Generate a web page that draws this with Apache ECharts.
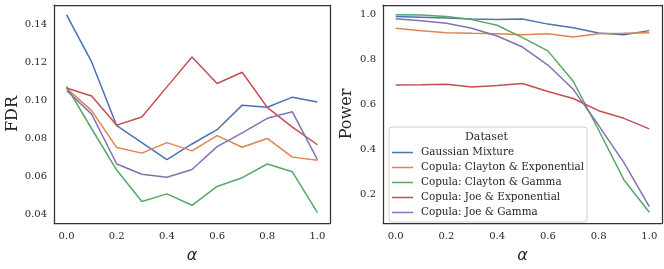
<!DOCTYPE html>
<html><head><meta charset="utf-8">
<script src="https://cdn.jsdelivr.net/npm/echarts@6/dist/echarts.min.js"></script>
<style>html,body{margin:0;padding:0;background:#fff}#c{width:664px;height:269px}</style>
</head><body><div id="c"></div>
<script>
const alpha = [0.0,0.1,0.2,0.3,0.4,0.5,0.6,0.7,0.8,0.9,1.0];
const seriesNames = ['Gaussian Mixture','Copula: Clayton & Exponential','Copula: Clayton & Gamma','Copula: Joe & Exponential','Copula: Joe & Gamma'];
const colors = ['#4C72B0','#DD8452','#55A868','#C44E52','#8172B3'];
// FDR values
const fdrGaussian = [0.1448,0.1201,0.0866,0.0777,0.0688,0.0770,0.0845,0.0974,0.0963,0.1016,0.0991];
const fdrClaytonExp = [0.1062,0.0945,0.0751,0.0722,0.0777,0.0734,0.0814,0.0753,0.0799,0.0701,0.0684];
const fdrClaytonGamma = [0.1073,0.0850,0.0633,0.0468,0.0508,0.0448,0.0547,0.0593,0.0665,0.0624,0.0410];
const fdrJoeExp = [0.1064,0.1022,0.0869,0.0912,0.1070,0.1227,0.1088,0.1147,0.0962,0.0859,0.0766];
const fdrJoeGamma = [0.1051,0.0927,0.0665,0.0611,0.0595,0.0636,0.0756,0.0828,0.0905,0.0939,0.0688];
// Power values
const powGaussian = [0.991,0.988,0.984,0.980,0.978,0.980,0.957,0.941,0.917,0.910,0.928];
const powClaytonExp = [0.939,0.928,0.919,0.916,0.914,0.910,0.914,0.900,0.914,0.916,0.919];
const powClaytonGamma = [0.999,0.997,0.991,0.977,0.952,0.897,0.838,0.703,0.486,0.264,0.120];
const powJoeExp = [0.686,0.687,0.690,0.677,0.684,0.693,0.657,0.626,0.572,0.538,0.491];
const powJoeGamma = [0.981,0.972,0.961,0.939,0.904,0.855,0.775,0.667,0.507,0.341,0.145];
const xTicks = [0,0.2,0.4,0.6,0.8,1.0];
const fdrTicks = [0.04,0.06,0.08,0.10,0.12,0.14];
const powTicks = [0.2,0.4,0.6,0.8,1.0];

const fdrData = [fdrGaussian,fdrClaytonExp,fdrClaytonGamma,fdrJoeExp,fdrJoeGamma];
const powData = [powGaussian,powClaytonExp,powClaytonGamma,powJoeExp,powJoeGamma];
const pair = arr => alpha.map((a,i)=>[a,arr[i]]);

const txt = '#262626';
function xAxis(gi){
  return {type:'value', gridIndex:gi, min:-0.05, max:1.05,
    axisLine:{show:true,onZero:false,lineStyle:{color:'#333',width:1.25}}, axisTick:{show:false}, splitLine:{show:false},
    axisLabel:{customValues:xTicks, formatter:v=>v.toFixed(1), color:txt, fontFamily:'DejaVu Serif', fontSize:10, margin:8},
    name:'α', nameLocation:'middle', nameGap:25,
    nameTextStyle:{fontFamily:'DejaVu Sans', fontStyle:'italic', fontSize:16, color:txt}};
}
function xTop(gi){
  return {type:'value', gridIndex:gi, position:'top', min:-0.05, max:1.05,
    axisLine:{show:true,onZero:false,lineStyle:{color:'#333',width:1.25}}, axisTick:{show:false}, axisLabel:{show:false}, splitLine:{show:false}};
}
function yAxis(gi,min,max,ticks,dec,name,gap){
  return {type:'value', gridIndex:gi, min:min, max:max,
    axisLine:{show:true,onZero:false,lineStyle:{color:'#333',width:1.25}}, axisTick:{show:false}, splitLine:{show:false},
    axisLabel:{customValues:ticks, formatter:v=>v.toFixed(dec), color:txt, fontFamily:'DejaVu Serif', fontSize:10, margin:7},
    name:name, nameLocation:'middle', nameGap:gap,
    nameTextStyle:{fontFamily:'DejaVu Serif', fontSize:16, color:txt}};
}
function yRight(gi,min,max){
  return {type:'value', gridIndex:gi, position:'right', min:min, max:max,
    axisLine:{show:true,onZero:false,lineStyle:{color:'#333',width:1.25}}, axisTick:{show:false}, axisLabel:{show:false}, splitLine:{show:false}};
}
const series = [];
seriesNames.forEach((n,i)=>{
  series.push({name:n, type:'line', xAxisIndex:0, yAxisIndex:0, data:pair(fdrData[i]), showSymbol:false, symbol:'none',
    lineStyle:{color:colors[i], width:1.5}, itemStyle:{color:colors[i]}, animation:false, silent:true});
  series.push({name:n, type:'line', xAxisIndex:1, yAxisIndex:2, data:pair(powData[i]), showSymbol:false, symbol:'none',
    lineStyle:{color:colors[i], width:1.5}, itemStyle:{color:colors[i]}, animation:false, silent:true});
});
const chart = echarts.init(document.getElementById('c'));
chart.setOption({
  animation:false,
  backgroundColor:'#fff',
  grid:[{left:54, top:5, width:276, height:223},{left:383, top:5, width:279, height:223}],
  xAxis:[xAxis(0), xAxis(1), xTop(0), xTop(1)],
  yAxis:[yAxis(0,0.0355,0.150,fdrTicks,2,'FDR',33), yRight(0,0.0355,0.150),
         yAxis(1,0.0725,1.042,powTicks,1,'Power',28), yRight(1,0.0725,1.042)],
  legend:{data:seriesNames, orient:'vertical', left:392, top:145, icon:'rect', itemWidth:21, itemHeight:1.5, itemGap:0,
    textStyle:{fontFamily:'DejaVu Serif', fontSize:10.4, lineHeight:15, height:15, color:txt, padding:[0,0,0,3]}, padding:0, selectedMode:false},
  graphic:[
    {type:'rect', left:388.5, top:126.5, shape:{width:198, height:95, r:3}, style:{fill:'rgba(255,255,255,0.8)', stroke:'#d0d0d0', lineWidth:1}, z:-1},
    {type:'text', left:465, top:131.5, style:{text:'Dataset', font:'11px "DejaVu Serif"', fill:txt}}
  ],
  series:series
});
</script></body></html>
